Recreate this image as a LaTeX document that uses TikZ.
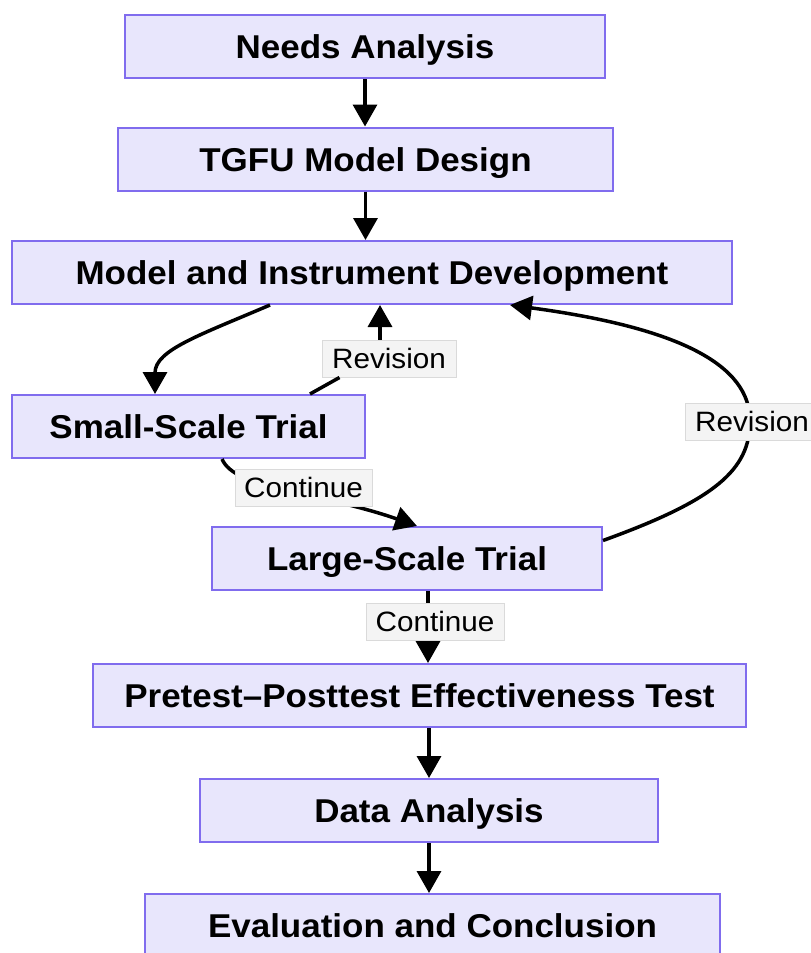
\documentclass[tikz,border=0pt]{standalone}
\usepackage{fontspec}
\setmainfont{Liberation Sans}
\newfontfamily\boxfont{Liberation Sans}[FakeStretch=1.06]
\usetikzlibrary{arrows.meta,calc}
\definecolor{boxfill}{RGB}{232,230,252}
\definecolor{boxline}{RGB}{128,108,238}
\definecolor{lblfill}{RGB}{244,244,244}
\definecolor{lblline}{RGB}{218,218,218}
\begin{document}
\begin{tikzpicture}[x=1pt,y=-1pt,
 stepbox/.style={draw=boxline, fill=boxfill, line width=2pt, minimum height=63pt, inner sep=0pt, text height=24pt, text depth=0pt, font=\boxfont\bfseries\fontsize{33}{38}\selectfont},
 lbl/.style={draw=lblline, fill=lblfill, line width=1pt, minimum height=37pt, minimum width=134pt, inner sep=0pt, text height=20pt, text depth=0pt, font=\boxfont\fontsize{28}{32}\selectfont},
 arr/.style={line width=3.5pt, -{Triangle[length=22pt,width=24pt]}},
 ln/.style={line width=3.5pt}]
\useasboundingbox (0,0) rectangle (811,953);
\fill[white] (0,0) rectangle (811,953);
\node[stepbox, minimum width=480pt] (needs) at (365,46.5) {Needs Analysis};
\node[stepbox, minimum width=495pt] (tgfu) at (365.5,159) {TGFU Model Design};
\node[stepbox, minimum width=720pt] (mid) at (372,272.5) {Model and Instrument Development};
\node[stepbox, minimum width=353pt] (small) at (188.5,426.5) {Small-Scale Trial};
\node[stepbox, minimum width=390pt] (large) at (407,558.5) {Large-Scale Trial};
\node[stepbox, minimum width=653pt] (pre) at (419.5,695.5) {Pretest–Posttest Effectiveness Test};
\node[stepbox, minimum width=458pt] (data) at (429,810.5) {Data Analysis};
\node[stepbox, minimum width=575pt] (eval) at (432.5,925.5) {Evaluation and Conclusion};
\node[lbl] (rev1) at (389,358.5) {Revision};
% straight flow
\draw[arr] (needs.south) -- (needs.south |- tgfu.north);
\draw[arr] (tgfu.south) -- (tgfu.south |- mid.north);
\draw[arr] (data.north |- pre.south) -- (data.north);
\draw[arr] (data.south) -- (data.south |- eval.north);
% mid -> small
\draw[arr] ($(mid.south)+(-102,0)$) .. controls (200,335) and (155,350) .. ($(small.north)+(-33.5,0)$);
% small -> mid (Revision)
\draw[ln] ($(small.north)+(121.5,0)$) -- ($(rev1.south west)+(18,0)$);
\coordinate (r1t) at ($(rev1.north)+(-9,0)$);
\draw[arr] (r1t) -- (r1t |- mid.south);
% small -> large (Continue)
\draw[arr] ($(small.south)+(33.5,0)$) .. controls (235,490) and (320,492) .. ($(large.north)+(10,0)$)
  node[lbl, minimum width=137pt, at={(303.5,487.5)}] (cont1) {Continue};
% large -> mid (Revision)
\draw[arr] ($(large.east)+(0,-18)$) .. controls (715,500) and (750,470) .. (750,421)
  .. controls (750,365) and (680,328) .. ($(mid.south)+(138,0)$)
  node[lbl, at={(752,421.5)}] (rev2) {Revision};
% large -> pre (Continue)
\coordinate (lt) at ($(large.south)+(21,0)$);
\draw[arr] (lt) -- (lt |- pre.north)
  node[lbl, minimum width=138pt, at={(435,621.5)}] (cont2) {Continue};
\end{tikzpicture}
\end{document}
